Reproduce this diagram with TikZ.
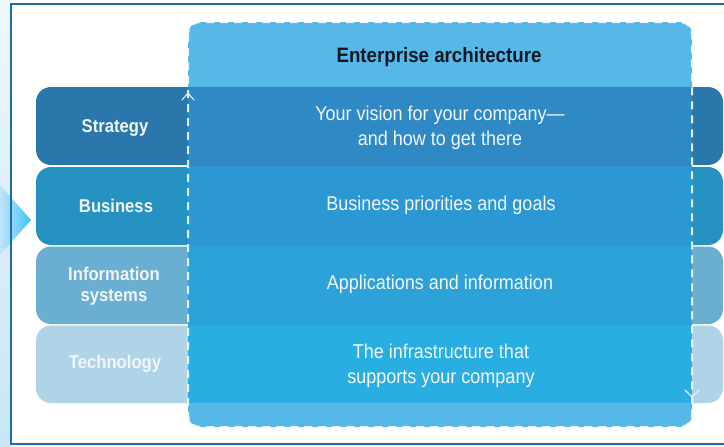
\documentclass[tikz,border=0pt]{standalone}
\usepackage{fontspec}
\setmainfont{Liberation Sans}[FakeStretch=0.9]
\usetikzlibrary{calc}
\definecolor{frameblue}{HTML}{1B6FA8}
\definecolor{boxblue}{HTML}{55B8E6}
\definecolor{stratO}{HTML}{2A78AB}
\definecolor{stratI}{HTML}{2E89C5}
\definecolor{busO}{HTML}{2592C2}
\definecolor{busI}{HTML}{2B98D3}
\definecolor{infoO}{HTML}{6AAED2}
\definecolor{infoI}{HTML}{2DA2D8}
\definecolor{techO}{HTML}{AFD4E7}
\definecolor{techI}{HTML}{28AEE0}
\definecolor{txtW}{HTML}{F2F6FA}
\definecolor{titleC}{HTML}{141826}
\definecolor{paleA}{HTML}{EEF7FC}
\definecolor{paleB}{HTML}{C8E6F6}
\definecolor{triA}{HTML}{BFE6F8}
\definecolor{triB}{HTML}{3FC3F4}
\tikzset{
  band/.style={rounded corners=15pt, draw=none},
  inner/.style={draw=none},
  lbl/.style={font=\bfseries\fontsize{18.5}{21}\selectfont, text=txtW, align=center, inner sep=0pt},
  desc/.style={font=\fontsize{20}{25}\selectfont, text=txtW, align=center, inner sep=0pt},
  chev/.style={draw=txtW!90!boxblue, line width=1.1pt, line cap=round, line join=round},
}
\begin{document}
\begin{tikzpicture}[x=1pt,y=-1pt]
\useasboundingbox (0,0) rectangle (724,447);
\fill[white] (0,0) rectangle (724,447);
% left pale strip
\shade[top color=paleA, bottom color=paleB] (0,0) rectangle (11,447);
% pointer triangle
\shade[left color=triA, right color=triB] (0,185) -- (31,220) -- (0,255) -- cycle;
% frame
\draw[frameblue, line width=2pt] (726,4) -- (11,4) -- (11,444) -- (726,444);
% enterprise box
\fill[boxblue, rounded corners=12pt] (188,22) rectangle (692,427);
% bands, outer parts
\fill[band, stratO] (36,87) rectangle (723,165);
\fill[band, busO] (36,167) rectangle (723,245);
\fill[band, infoO] (36,246.5) rectangle (723,324);
\fill[band, techO] (36,325.5) rectangle (723,403);
% bands, inside the box
\fill[inner, stratI] (188,87) rectangle (692,166);
\fill[inner, busI] (188,166) rectangle (692,245.5);
\fill[inner, infoI] (188,245.5) rectangle (692,324.7);
\fill[inner, techI] (188,324.7) rectangle (692,403);
% dashed border of the box
\draw[white, opacity=0.85, line width=2pt, dash pattern=on 8pt off 6pt, rounded corners=12pt] (188,22) rectangle (692,427);
% direction chevrons
\coordinate (upTip) at (188,93);
\coordinate (downTip) at (692,397);
\draw[chev] ($(upTip)+(-6,7)$) -- (upTip) -- ($(upTip)+(6,7)$);
\draw[chev] ($(downTip)+(-7,-7)$) -- (downTip) -- ($(downTip)+(7,-7)$);
% texts
\node[font=\bfseries\fontsize{20.8}{24}\selectfont, text=titleC, inner sep=0pt] (title) at (439,57) {Enterprise architecture};
\node[lbl] (strategy) at (115,128) {Strategy};
\node[lbl] (business) at (116,206) {Business};
\node[lbl] (infosys) at (114,286) {Information\\systems};
\node[lbl] (technology) at (115,364) {Technology};
\node[desc] (vision) at (440,128) {Your vision for your company—\\and how to get there};
\node[desc] (priorities) at (441,205) {Business priorities and goals};
\node[desc] (apps) at (440,284) {Applications and information};
\node[desc] (infra) at (441,366) {The infrastructure that\\supports your company};
\end{tikzpicture}
\end{document}
